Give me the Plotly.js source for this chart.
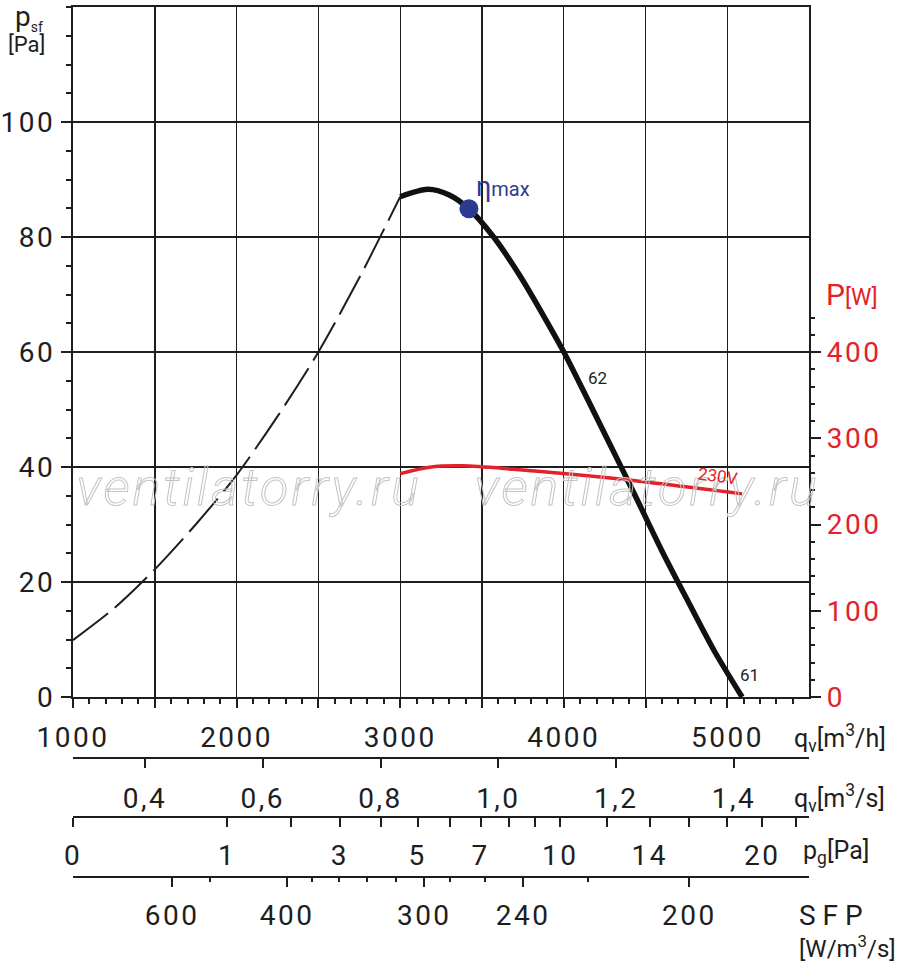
<!DOCTYPE html>
<html>
<head>
<meta charset="utf-8">
<script src="https://cdn.plot.ly/plotly-3.0.1.min.js"></script>
<style>
  html, body { margin: 0; padding: 0; background: #fff; }
  #graph { width: 900px; height: 967px; }
  [class*="tick"] text { letter-spacing: 2.5px; }
  g.annotation[data-index="0"] text, g.annotation[data-index="1"] text {
    fill: none !important; stroke: #c4c4c4; stroke-width: 1px; letter-spacing: 3px;
  }
</style>
</head>
<body>
<div id="graph"></div>
<script>
// fan curve, dashed part (left of working range)
const qDash = [1000, 1250, 1500, 1750, 2000, 2250, 2500, 2750, 3000];
const pDash = [9.9, 15.4, 22.2, 30.0, 38.6, 48.8, 60.0, 72.9, 87.0];

// fan curve, working range
const qFan = [3000, 3170, 3300, 3420, 3571, 3731, 3870, 4000, 4138, 4281, 4430, 4600, 4760, 4920, 5090];
const pFan = [87.0, 88.3, 87.3, 84.9, 80.0, 73.3, 66.6, 60.0, 52.2, 44.0, 35.4, 25.4, 16.6, 8.0, 0];

// power input, 230V
const qPower = [3000, 3180, 3385, 3690, 4300, 5090];
const wPower = [259, 266.5, 268, 264, 253.5, 235.5];

// best efficiency point
const etaQ = [3420];
const etaP = [84.9];

// q_v [m3/h] main scale
const qvTicks = [1000, 1500, 2000, 2500, 3000, 3500, 4000, 4500, 5000];
const qvText = ['1000', '', '2000', '', '3000', '', '4000', '', '5000'];

// q_v [m3/s] scale
const qsTicks = [0.4, 0.6, 0.8, 1.0, 1.2, 1.4];
const qsText = ['0,4', '0,6', '0,8', '1,0', '1,2', '1,4'];

// p_g [Pa] scale (ticks, labelled ones)
const pgTicks = [0, 1, 2, 3, 4, 5, 6, 7, 8, 9, 10, 12, 14, 16, 18, 20, 22];
const pgLabelled = [0, 1, 3, 5, 7, 10, 14, 20];

// SFP scale, positions read in m3/h
const sfpText = ['600', '400', '300', '240', '200'];
const sfpAt = [1606, 2309, 3147, 3752, 4768];
const sfpMinorAt = [1838, 2462, 2627, 2798, 2976, 3306, 3520, 4150];

// left / right scales
const psfTicks = [0, 20, 40, 60, 80, 100];
const powTicks = [0, 100, 200, 300, 400];
const powMinor = [0, 20, 40, 60, 80, 100, 120, 140, 160, 180, 200, 220, 240, 260, 280, 300, 320, 340, 360, 380, 400, 420, 440];

const INK = '#1e1e1e';
const RED = '#e3212b';
const BLUE = '#2d3a92';
const FONT = 'Roboto, "DejaVu Sans", sans-serif';

// plot area in page pixels
const L = 73, Rm = 91, T = 7, Bm = 47;
const PW = 900 - L - Rm, PH = 967 - T - Bm;
function xp(x) { return (x - L) / PW; }
function yp(y) { return (967 - Bm - y) / PH; }

const pgScale = pgTicks.map(v => 1000 + 942 * Math.sqrt(v));
const pgText = pgTicks.map(v => pgLabelled.indexOf(v) >= 0 ? String(v) : '');

function plot() {
    const tickFont = { family: FONT, size: 28, color: INK };
    const qMax = 1000 + PW / 0.1636;

    const traces = [
        { x: qDash, y: pDash, mode: 'lines', line: { color: INK, width: 2, dash: '44px,9px', shape: 'spline', smoothing: 0.8 }, xaxis: 'x', yaxis: 'y' },
        { x: qFan, y: pFan, mode: 'lines', line: { color: '#111', width: 5.5, shape: 'spline', smoothing: 0.8 }, xaxis: 'x', yaxis: 'y' },
        { x: qPower, y: wPower, mode: 'lines', line: { color: RED, width: 3.5, shape: 'spline', smoothing: 0.8 }, xaxis: 'x', yaxis: 'y2' },
        { x: etaQ, y: etaP, mode: 'markers', marker: { color: BLUE, size: 19 }, xaxis: 'x', yaxis: 'y' },
        { x: [], y: [], xaxis: 'x2', yaxis: 'y' },
        { x: [], y: [], xaxis: 'x3', yaxis: 'y' },
        { x: [], y: [], xaxis: 'x4', yaxis: 'y' },
        { x: [], y: [], xaxis: 'x5', yaxis: 'y' },
        { x: [], y: [], xaxis: 'x', yaxis: 'y3' }
    ];
    traces.forEach(t => { t.showlegend = false; t.hoverinfo = 'skip'; });

    const lowerAxis = {
        overlaying: 'x', anchor: 'free', domain: [0, 1],
        showgrid: false, zeroline: false, showline: true, linewidth: 2.2, linecolor: INK,
        ticks: 'outside', tickcolor: INK, tickwidth: 2, ticklen: 9,
        tickfont: tickFont, ticklabelstandoff: 4, tickmode: 'array'
    };

    const layout = {
        width: 900, height: 967,
        margin: { l: L, r: Rm, t: T, b: Bm },
        paper_bgcolor: '#fff', plot_bgcolor: '#fff',
        showlegend: false, hovermode: false,
        xaxis: {
            range: [1000, qMax], domain: [0, 1], anchor: 'y',
            tickmode: 'array', tickvals: qvTicks, ticktext: qvText,
            ticks: 'outside', ticklen: 9, tickwidth: 2, tickcolor: INK,
            minor: { dtick: 100, ticks: 'outside', ticklen: 5, tickwidth: 2, tickcolor: INK, showgrid: false },
            showgrid: true, gridcolor: INK, gridwidth: 1.4,
            showline: true, linewidth: 2.2, linecolor: INK, mirror: true,
            zeroline: false, tickfont: tickFont, ticklabelstandoff: 5
        },
        xaxis2: Object.assign({}, lowerAxis, {
            range: [1000 / 3600, qMax / 3600],
            position: yp(758), tickvals: qsTicks, ticktext: qsText, ticklabelstandoff: 6
        }),
        xaxis3: Object.assign({}, lowerAxis, {
            range: [1000, qMax],
            position: yp(817), tickvals: pgScale, ticktext: pgText
        }),
        xaxis4: Object.assign({}, lowerAxis, {
            range: [1000, qMax],
            position: yp(877), tickvals: sfpAt, ticktext: sfpText
        }),
        xaxis5: Object.assign({}, lowerAxis, {
            range: [1000, qMax],
            position: yp(877), tickvals: sfpMinorAt, showticklabels: false,
            showline: false, ticklen: 4
        }),
        yaxis: {
            range: [0, 120], domain: [yp(697), 1], anchor: 'x',
            tickmode: 'array', tickvals: psfTicks,
            ticks: 'outside', ticklen: 10, tickwidth: 2, tickcolor: INK,
            minor: { dtick: 5, ticks: 'outside', ticklen: 5, tickwidth: 2, tickcolor: INK, showgrid: false },
            showgrid: true, gridcolor: INK, gridwidth: 1.4,
            showline: true, linewidth: 2.2, linecolor: INK,
            zeroline: false, tickfont: tickFont, ticklabelstandoff: 0
        },
        yaxis2: {
            range: [0, 800], overlaying: 'y', side: 'right', anchor: 'x',
            tickmode: 'array', tickvals: powTicks,
            ticks: 'outside', ticklen: 10, tickwidth: 2, tickcolor: INK,
            showgrid: false, zeroline: false,
            showline: true, linewidth: 2.2, linecolor: INK,
            tickfont: Object.assign({}, tickFont, { color: RED }), ticklabelstandoff: 0
        },
        yaxis3: {
            range: [0, 800], overlaying: 'y', side: 'right', anchor: 'x',
            tickmode: 'array', tickvals: powMinor, showticklabels: false,
            ticks: 'outside', ticklen: 5, tickwidth: 2, tickcolor: INK,
            showgrid: false, zeroline: false, showline: false
        },
        annotations: [
            { text: 'ventilatorry.ru', x: xp(249), y: yp(487), font: { family: FONT, size: 52, color: '#d5d5d5', style: 'italic', weight: 300 } },
            { text: 'ventilatorry.ru', x: xp(647), y: yp(487), font: { family: FONT, size: 52, color: '#d5d5d5', style: 'italic', weight: 300 } },
            { text: 'p<sub><span style="font-size:14px">sf</span></sub>', x: xp(14), y: yp(17), xanchor: 'left', borderpad: 0, font: { family: FONT, size: 28, color: INK } },
            { text: '[Pa]', x: xp(7), y: yp(45), xanchor: 'left', borderpad: 0, font: { family: FONT, size: 22, color: INK } },
            { text: 'P<span style="font-size:23px">[W]</span>', x: xp(824), y: yp(294), xanchor: 'left', font: { family: FONT, size: 30, color: RED } },
            { text: 'q<sub>v</sub>[m<sup>3</sup>/h]', x: xp(792), y: yp(738), xanchor: 'left', font: { family: FONT, size: 25, color: INK } },
            { text: 'q<sub>v</sub>[m<sup>3</sup>/s]', x: xp(792), y: yp(798), xanchor: 'left', font: { family: FONT, size: 25, color: INK } },
            { text: 'p<sub>g</sub>[Pa]', x: xp(801), y: yp(852), xanchor: 'left', font: { family: FONT, size: 25, color: INK } },
            { text: 'S F P', x: xp(797), y: yp(915), xanchor: 'left', font: { family: FONT, size: 28, color: INK } },
            { text: '[W/m<sup>3</sup>/s]', x: xp(797), y: yp(947), xanchor: 'left', font: { family: FONT, size: 24, color: INK } },
            { text: '<span style="font-size:27px">η</span>max', x: xp(474), y: yp(187), xanchor: 'left', font: { family: FONT, size: 20, color: BLUE } },
            { text: '62', x: xp(597), y: yp(378), font: { family: FONT, size: 17, color: INK } },
            { text: '61', x: xp(749), y: yp(675), font: { family: FONT, size: 17, color: INK } },
            { text: '230V', x: xp(718), y: yp(476), textangle: 8, font: { family: FONT, size: 17, color: RED } }
        ]
    };
    layout.annotations.forEach(a => {
        a.xref = 'paper'; a.yref = 'paper'; a.showarrow = false;
        if (!a.xanchor) a.xanchor = 'center';
        if (!a.yanchor) a.yanchor = 'middle';
    });

    Plotly.newPlot('graph', traces, layout, { staticPlot: true, displayModeBar: false });
}

window.addEventListener('load', plot, false);
</script>
</body>
</html>
